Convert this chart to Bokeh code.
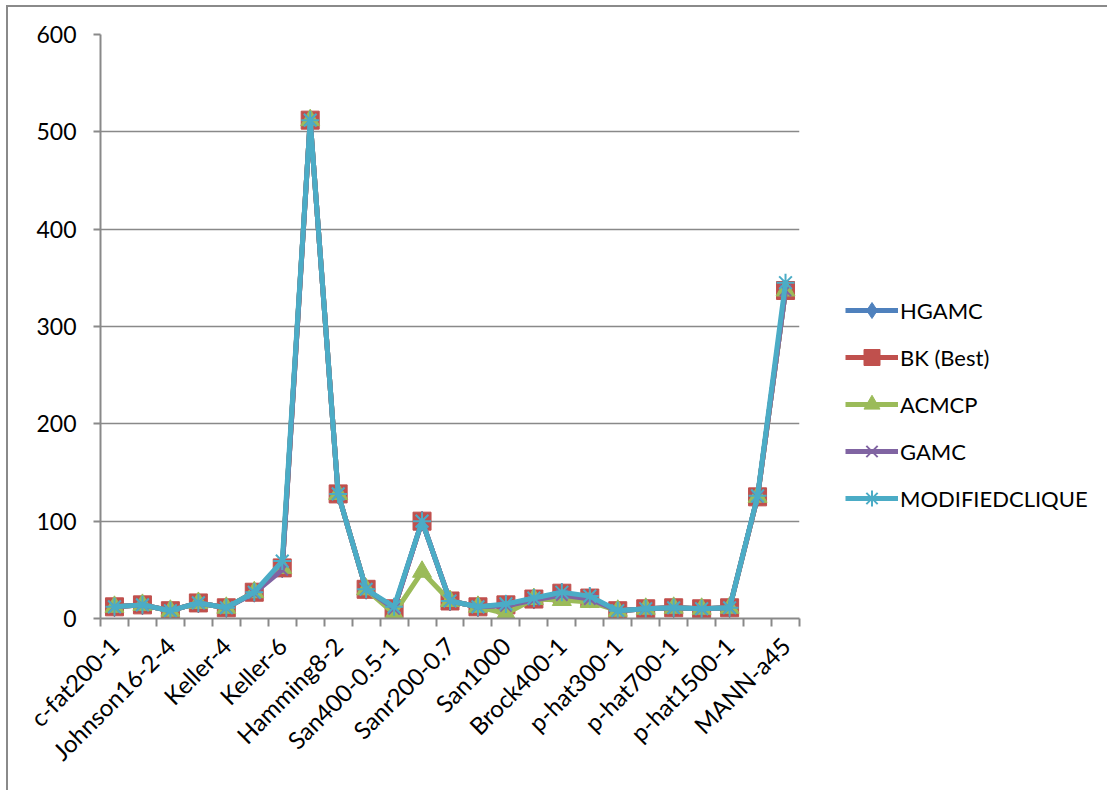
from bokeh.plotting import figure
from bokeh.models import FixedTicker, Legend, LegendItem
from bokeh.embed import file_html
from bokeh.resources import INLINE

# ---- data ----
x_idx = list(range(25))
x_labels = {0: "c-fat200-1", 2: "Johnson16-2-4", 4: "Keller-4", 6: "Keller-6",
            8: "Hamming8-2", 10: "San400-0.5-1", 12: "Sanr200-0.7", 14: "San1000",
            16: "Brock400-1", 18: "p-hat300-1", 20: "p-hat700-1", 22: "p-hat1500-1",
            24: "MANN-a45"}
hgamc = [12, 14, 8, 16, 11, 27, 52, 512, 128, 30, 10, 100, 18, 12, 14, 20, 26, 21, 8, 10, 11, 10, 11, 125, 337]
bk    = [12, 14, 8, 16, 11, 27, 52, 512, 128, 30, 10, 100, 18, 12, 14, 20, 26, 21, 8, 10, 11, 10, 11, 125, 337]
acmcp = [12, 14, 8, 16, 11, 27, 52, 512, 128, 30, 5, 48, 18, 12, 5, 20, 19, 17, 8, 10, 11, 10, 11, 125, 337]
gamc  = [12, 14, 8, 16, 11, 26, 50, 512, 128, 30, 10, 100, 18, 12, 13, 19, 24, 20, 8, 10, 11, 10, 11, 125, 337]
modc  = [12, 14, 8, 16, 11, 27, 59, 512, 128, 30, 12, 100, 18, 12, 15, 21, 27, 23, 8, 10, 11, 10, 11, 126, 345]
y_ticks = [0, 100, 200, 300, 400, 500, 600]

series = [
    ("HGAMC", hgamc, "#4F81BD", "diamond", 20),
    ("BK (Best)", bk, "#C0504D", "square", 18),
    ("ACMCP", acmcp, "#9BBB59", "triangle", 19),
    ("GAMC", gamc, "#8064A2", "x", 16),
    ("MODIFIEDCLIQUE", modc, "#4BACC6", "asterisk", 18),
]

FONT = "Lato"
GRAY = "#898989"

p = figure(frame_width=699, frame_height=584, output_backend="svg", toolbar_location=None,
           x_range=(-0.5, 24.5), y_range=(0, 600),
           min_border_left=92, min_border_top=27, min_border_right=20, min_border_bottom=172)
p.styles = {"border-top": "2px solid #8a8a8a", "border-left": "2px solid #8a8a8a",
            "margin": "5px 0 0 6px"}
p.outline_line_color = None
p.background_fill_color = "white"
p.border_fill_color = "white"

items = []
for name, vals, col, mk, sz in series:
    r1 = p.line(x_idx, vals, line_color=col, line_width=5)
    r2 = p.scatter(x_idx, vals, marker=mk, size=sz, fill_color=col, line_color=col,
                   line_width=2 if mk in ("x", "asterisk") else 1)
    items.append(LegendItem(label=name, renderers=[r1, r2]))

legend = Legend(items=items, location=(46, 100), margin=0, padding=0,
                border_line_color=None, background_fill_alpha=0,
                glyph_width=53, glyph_height=40, label_height=40, spacing=7,
                label_standoff=2, label_text_font=FONT, label_text_font_size="22px",
                label_text_color="black")
p.add_layout(legend, "right")

# x axis
p.xaxis.ticker = FixedTicker(ticks=sorted(x_labels.keys()),
                             minor_ticks=[i - 0.5 for i in range(26)])
p.xaxis.major_label_overrides = {k: v for k, v in x_labels.items()}
p.xaxis.major_label_orientation = 0.785398
p.xaxis.major_tick_out = 0
p.xaxis.major_tick_in = 0
p.xaxis.minor_tick_out = 8
p.xaxis.minor_tick_in = 0
p.xaxis.minor_tick_line_color = GRAY
p.xaxis.minor_tick_line_width = 2
p.xaxis.axis_line_color = GRAY
p.xaxis.axis_line_width = 2
p.xaxis.major_label_text_font = FONT
p.xaxis.major_label_text_font_size = "24px"
p.xaxis.major_label_text_color = "black"
p.xaxis.major_label_standoff = 15

# y axis
p.yaxis.ticker = FixedTicker(ticks=y_ticks)
p.yaxis.minor_tick_line_color = None
p.yaxis.major_tick_out = 7
p.yaxis.major_tick_in = 0
p.yaxis.major_tick_line_color = GRAY
p.yaxis.major_tick_line_width = 2
p.yaxis.axis_line_color = GRAY
p.yaxis.axis_line_width = 2
p.yaxis.major_label_text_font = FONT
p.yaxis.major_label_text_font_size = "23px"
p.yaxis.major_label_text_color = "black"
p.yaxis.major_label_standoff = 17

p.xgrid.grid_line_color = None
p.ygrid.grid_line_color = GRAY
p.ygrid.grid_line_width = 1.5

open("out.html", "w").write(file_html(p, INLINE))
